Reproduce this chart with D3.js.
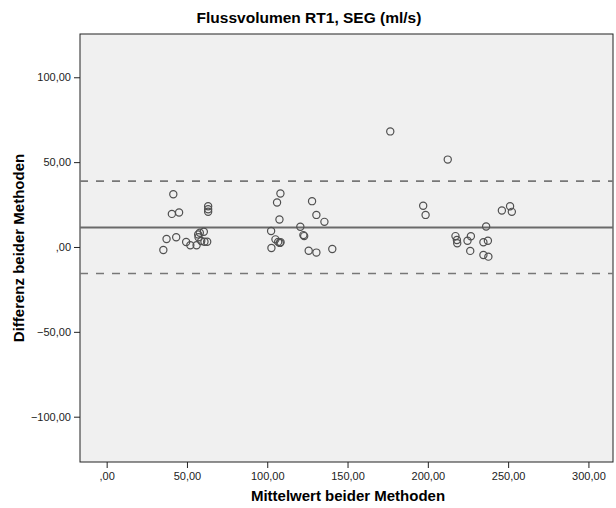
<!DOCTYPE html>
<html lang="de">
  <head>
    <meta charset="UTF-8" />
    <title>Flussvolumen RT1, SEG</title>
    <style>
      body { margin: 0; background: #fff; }
      text { font-family: "Liberation Sans", Arial, sans-serif; }
    </style>
  </head>
  <body>
    <svg id="svg" width="616" height="508"></svg>
    <script src="https://d3js.org/d3.v7.min.js"></script>
    <script>
      // Mittelwert (x) und Differenz (y) je Messung
      const meanVals = [
        35.3, 37.3, 40.6, 41.5, 43.3, 45.1, 49.5, 52.1, 56.0, 57.0, 57.2, 58.0, 58.9, 60.5, 60.9, 62.6, 63.2, 63.2, 63.2,
        102.4, 102.6, 105.1, 106.1, 107.6, 108.2, 106.8, 107.8, 108.3, 120.6, 122.5, 123.0, 125.8, 127.9, 130.6, 130.6, 135.6, 140.5,
        176.6, 197.1, 198.6, 212.4, 217.2, 218.1, 218.3, 224.7, 226.4, 226.8, 234.6, 234.6, 236.3, 237.4, 237.7, 246.1, 251.2, 252.3
      ];
      const diffVals = [
        -1.8, 4.7, 19.5, 31.1, 5.7, 20.3, 2.9, 1.0, 1.0, 7.4, 5.7, 8.4, 3.5, 9.0, 3.1, 3.1, 24.0, 22.2, 20.8,
        9.4, -0.6, 4.5, 26.2, 16.2, 31.5, 3.0, 2.4, 2.8, 11.9, 7.0, 6.4, -2.2, 27.0, 18.9, -3.3, 14.8, -1.2,
        68.1, 24.3, 18.9, 51.5, 6.4, 4.1, 2.2, 3.7, -2.3, 6.3, 2.8, -4.7, 12.1, 3.7, -5.7, 21.5, 24.0, 20.7
      ];
      const meanLine = 11.5;
      const limitLines = [38.8, -15.6];
      const xTicks = [0, 50, 100, 150, 200, 250, 300];
      const yTicks = [-100, -50, 0, 50, 100];

      const fmt = (v) => (v === 0 ? ",00" : d3.format(".2f")(v).replace(".", ","));

      const svg = d3.select("#svg");
      const pL = 80, pR = 613, pT = 34, pB = 462;

      const x = d3.scaleLinear().domain([-16.6, 315.3]).range([pL, pR]);
      const y = d3.scaleLinear().domain([-126.7, 125.5]).range([pB, pT]);

      // plot background
      svg.append("rect")
        .attr("x", pL).attr("y", pT)
        .attr("width", pR - pL).attr("height", pB - pT)
        .attr("fill", "#f0f0f0")
        .attr("stroke", "#222")
        .attr("stroke-width", 1);

      // reference lines
      svg.append("line")
        .attr("x1", pL).attr("x2", pR)
        .attr("y1", y(meanLine)).attr("y2", y(meanLine))
        .attr("stroke", "#6a6a6a").attr("stroke-width", 2);

      svg.selectAll(".limit")
        .data(limitLines)
        .enter()
        .append("line")
        .attr("class", "limit")
        .attr("x1", pL).attr("x2", pR)
        .attr("y1", (d) => y(d)).attr("y2", (d) => y(d))
        .attr("stroke", "#777").attr("stroke-width", 1.6)
        .attr("stroke-dasharray", "8,8");

      // points
      svg.selectAll("circle")
        .data(meanVals)
        .enter()
        .append("circle")
        .attr("cx", (d) => x(d))
        .attr("cy", (d, i) => y(diffVals[i]))
        .attr("r", 3.6)
        .attr("fill", "none")
        .attr("stroke", "#505050")
        .attr("stroke-width", 1.2);

      // axes
      const xAxis = svg.append("g")
        .attr("transform", `translate(0,${pB})`)
        .call(d3.axisBottom(x).tickValues(xTicks).tickFormat(fmt).tickSize(6).tickPadding(4));
      const yAxis = svg.append("g")
        .attr("transform", `translate(${pL},0)`)
        .call(d3.axisLeft(y).tickValues(yTicks).tickFormat(fmt).tickSize(6).tickPadding(3));

      [xAxis, yAxis].forEach((g) => {
        g.select(".domain").remove();
        g.selectAll(".tick line").attr("stroke", "#222");
        g.selectAll(".tick text")
          .attr("fill", "#222")
          .style("font-size", "11px")
          .style("font-family", "'Liberation Sans', Arial, sans-serif");
      });

      // titles
      svg.append("text")
        .attr("x", 309).attr("y", 23)
        .attr("text-anchor", "middle")
        .style("font-size", "15.5px").style("font-weight", "bold")
        .text("Flussvolumen RT1, SEG (ml/s)");

      svg.append("text")
        .attr("x", 348).attr("y", 501)
        .attr("text-anchor", "middle")
        .style("font-size", "15px").style("font-weight", "bold")
        .text("Mittelwert beider Methoden");

      svg.append("text")
        .attr("transform", `translate(24,${(pT + pB) / 2}) rotate(-90)`)
        .attr("text-anchor", "middle")
        .style("font-size", "15px").style("font-weight", "bold")
        .text("Differenz beider Methoden");
    </script>
  </body>
</html>
